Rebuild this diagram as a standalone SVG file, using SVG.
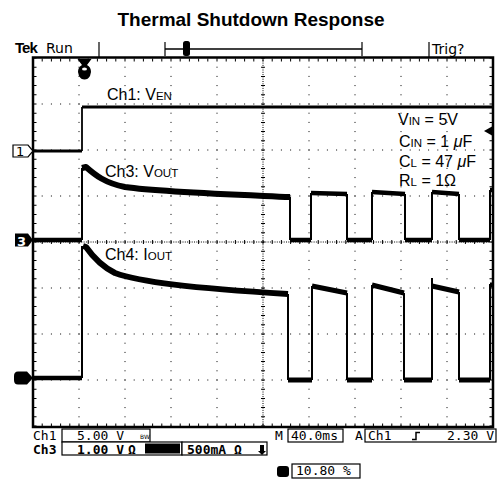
<svg xmlns="http://www.w3.org/2000/svg" width="502" height="483" viewBox="0 0 502 483">
<style>
.grid{stroke:#000;stroke-width:1;stroke-dasharray:1 8.2;fill:none}
.axis{stroke:#000;stroke-width:1;stroke-dasharray:1 1.3;fill:none}
.tick{stroke:#000;stroke-width:4;stroke-dasharray:1 8.2;fill:none}
.etick{stroke:#000;stroke-width:3;stroke-dasharray:1 8.2;fill:none}
.frame{stroke:#000;stroke-width:2.5;fill:none}
.thin{stroke:#000;stroke-width:1.2;fill:none}
.lbl{font-family:"Liberation Sans",Arial,sans-serif;font-size:16px;fill:#000}
.sm{font-size:11.5px}
.ro{font-family:"DejaVu Sans Mono","Liberation Mono",monospace;font-size:13px;fill:#000}
.rob{font-family:"DejaVu Sans Mono","Liberation Mono",monospace;font-size:13px;font-weight:bold;fill:#000}
.box{fill:#fff;stroke:#000;stroke-width:1.2}
.tr{fill:none;stroke:#000;stroke-linejoin:round;stroke-linecap:butt}
</style>
<defs>
<clipPath id="scr"><rect x="33" y="58" width="460" height="369"/></clipPath>
</defs>
<rect width="502" height="483" fill="#fff"/>
<text x="251" y="26" text-anchor="middle" style="font-family:'Liberation Sans',Arial,sans-serif;font-size:19px;font-weight:bold">Thermal Shutdown Response</text>

<g id="topbar">
<text x="15" y="53" style="font-family:'Liberation Sans',Arial,sans-serif;font-size:15px;font-weight:bold;letter-spacing:-1px">Tek</text>
<text x="46" y="53" style="font-family:'DejaVu Sans',sans-serif;font-size:14px">Run</text>
<line x1="99" y1="42" x2="99" y2="57" class="thin"/>
<line x1="165" y1="49" x2="362" y2="49" style="stroke:#000;stroke-width:1.5"/>
<line x1="165" y1="42" x2="165" y2="56" class="thin"/>
<line x1="362" y1="42" x2="362" y2="56" class="thin"/>
<rect x="183" y="41" width="7" height="15" rx="2.5" fill="#000"/>
<line x1="429" y1="42" x2="429" y2="57" class="thin"/>
<text x="432" y="54" style="font-family:'DejaVu Sans',sans-serif;font-size:14px">Trig?</text>
</g>

<g id="graticule">
<rect x="33" y="57.5" width="460" height="369.5" class="frame"/>
<path class="grid" d="M79,57.5V427M125,57.5V427M171,57.5V427M217,57.5V427M309,57.5V427M355,57.5V427M401,57.5V427M447,57.5V427"/>
<path class="grid" d="M32.5,104H493M32.5,150H493M32.5,196H493M32.5,288H493M32.5,334H493M32.5,380H493"/>
<path class="axis" d="M33,242H493M263,58V427"/>
<path class="tick" d="M32.5,242H493"/>
<path class="tick" d="M263,57.5V427"/>
<path class="etick" d="M32.5,60H493M32.5,425H493"/>
<path class="etick" d="M35,57.5V427M491,57.5V427"/>
</g>

<g id="ch1-trace" clip-path="url(#scr)">
<path class="tr" style="stroke-width:3" d="M33,151L82,151"/>
<path class="tr" style="stroke-width:1.8" d="M82,151V107"/>
<path class="tr" style="stroke-width:3.2" d="M82,107H493"/>
</g>

<g id="ch3-trace" clip-path="url(#scr)">
<path class="tr" style="stroke-width:2" d="M82,240V168M290,197V240M311,240V193M347,194V240M372,240V192M405,194V240M432,240V192M459,194V240M490,240V190"/>
<path class="tr" style="stroke-width:4.5" d="M33,240H82"/>
<path class="tr" style="stroke-width:6" d="M82,168L86,167C95,175 105,183 125,187C160,192 220,194 290,197"/>
<path class="tr" style="stroke-width:4.5" d="M290,240H311M311,193L347,194M347,240H372M372,192L405,194M405,240H432M432,192L459,194M459,240H490M490,190H493"/>
</g>

<g id="ch4-trace" clip-path="url(#scr)">
<path class="tr" style="stroke-width:2" d="M82,378V246M288,294V380M312,380V286M347,293V380M372,380V285M404,293V380M432,380V278M459,292V380M490,380V284"/>
<path class="tr" style="stroke-width:4.5" d="M33,378H82"/>
<path class="tr" style="stroke-width:6" d="M83,246L86,247C93,257 101,266 115,273C140,282 190,288 288,294"/>
<path class="tr" style="stroke-width:5" d="M288,380H312M312,286L347,293M347,380H372M372,285L404,293M404,380H432M432,286L459,292M459,380H490M490,285H493"/>
</g>

<g id="trigger-marker">
<path d="M77.5,59L91.5,59L87,65Q91,67 91,72L90,76Q88,79.5 84.5,79.5Q81,79.5 79,76L78,72Q78,67 82,65Z" fill="#000"/>
<ellipse cx="84.5" cy="69" rx="2.5" ry="1.5" fill="#fff"/>
</g>

<g id="ch1-marker">
<path d="M13,145H28L33,151L28,157H13Z" fill="#fff" stroke="#000" stroke-width="1.2"/>
<text x="16" y="156" style="font-family:'DejaVu Sans',sans-serif;font-size:13px">1</text>
</g>
<g id="ch3-marker">
<path d="M15,233.5H28L33,240L28,246.5H15Z" fill="#000"/>
<text x="17" y="245.5" style="font-family:'DejaVu Sans',sans-serif;font-size:13px;font-weight:bold;fill:#fff">3</text>
</g>
<g id="ch4-marker">
<path d="M18,371.5H27L33,378L27,384.5H18Q14,384.5 14,380V376Q14,371.5 18,371.5Z" fill="#000"/>
</g>

<g id="ch1-label"><text x="107" y="100" class="lbl">Ch1: V<tspan class="sm">EN</tspan></text></g>
<g id="ch3-label"><text x="105" y="177" class="lbl">Ch3: V<tspan class="sm">OUT</tspan></text></g>
<g id="ch4-label"><text x="105" y="260" class="lbl">Ch4: I<tspan class="sm">OUT</tspan></text></g>

<g id="conditions">
<text x="398" y="125" class="lbl">V<tspan class="sm">IN</tspan> = 5V</text>
<text x="399" y="147" class="lbl">C<tspan class="sm">IN</tspan> = 1 <tspan style="font-style:italic">μ</tspan>F</text>
<text x="399" y="167" class="lbl">C<tspan class="sm">L</tspan> = 47 <tspan style="font-style:italic">μ</tspan>F</text>
<text x="399" y="186" class="lbl">R<tspan class="sm">L</tspan> = 1Ω</text>
<path d="M484,131L492,126.5V135.5Z" fill="#000"/>
</g>

<g id="readout">
<text x="33" y="440" class="ro">Ch1</text>
<rect x="62" y="429" width="88" height="13" class="box"/>
<text x="77" y="440" class="ro">5.00 V</text>
<text x="140" y="439" style="font-family:'DejaVu Sans',sans-serif;font-size:6px">BW</text>

<text x="33" y="454" class="rob">Ch3</text>
<rect x="62" y="442" width="120" height="13" class="box"/>
<text x="77" y="454" class="rob">1.00 V</text>
<text x="128" y="454" class="rob">Ω</text>
<rect x="145" y="443.5" width="35" height="10" fill="#000"/>
<rect x="182" y="442" width="85" height="13" class="box"/>
<text x="187" y="454" class="rob">500mA Ω</text>
<path d="M260,445V451H258L262,455L266,451H264V445Z" fill="#000"/>

<text x="275" y="440" class="ro">M</text>
<rect x="288" y="429" width="55" height="13" class="box"/>
<text x="291" y="440" class="ro">40.0ms</text>
<text x="355" y="440" class="ro">A</text>
<rect x="365" y="429" width="131" height="13" class="box"/>
<text x="368" y="440" class="ro">Ch1</text>
<path d="M412,439.5H416V432.5H420" fill="none" stroke="#000" stroke-width="1.5"/>
<text x="447" y="440" class="ro">2.30 V</text>

<rect x="277" y="466" width="12" height="11" rx="3" fill="#000"/>
<rect x="292" y="464" width="68" height="14" class="box"/>
<text x="296" y="475" class="ro">10.80 %</text>
</g>
</svg>
